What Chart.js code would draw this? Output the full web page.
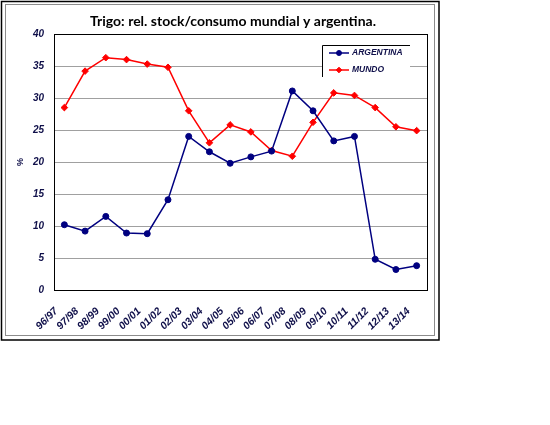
<!DOCTYPE html>
<html>
<head>
<meta charset="utf-8">
<script src="https://cdn.jsdelivr.net/npm/chart.js@4.4.1/dist/chart.umd.min.js"></script>
<style>
  html, body { margin: 0; padding: 0; background: #ffffff; }
  #wrap { width: 550px; height: 425px; }
</style>
</head>
<body>
<div id="wrap"><canvas id="c" width="550" height="425"></canvas></div>
<script>
const categories = ['96/97','97/98','98/99','99/00','00/01','01/02','02/03','03/04','04/05','05/06','06/07','07/08','08/09','09/10','10/11','11/12','12/13','13/14'];
const argentina = [10.2, 9.2, 11.5, 8.9, 8.8, 14.1, 24.0, 21.6, 19.8, 20.8, 21.7, 31.1, 28.0, 23.3, 24.0, 4.8, 3.2, 3.8];
const mundo = [28.5, 34.2, 36.3, 36.0, 35.3, 34.8, 28.0, 23.0, 25.8, 24.7, 21.8, 20.9, 26.2, 30.8, 30.4, 28.5, 25.5, 24.9];
const titleText = 'Trigo: rel. stock/consumo mundial y argentina.';
const yTitle = '%';

const NAVY = '#000080';
const RED = '#ff0000';
const TXT = '#10104a';

const framePlugin = {
  id: 'frame',
  beforeDraw(chart) {
    const ctx = chart.ctx;
    ctx.save();
    ctx.fillStyle = '#ffffff';
    ctx.fillRect(0, 0, chart.width, chart.height);
    ctx.strokeStyle = '#000000';
    ctx.lineWidth = 1.5;
    ctx.strokeRect(1.5, 1.5, 437.5, 338.5);
    ctx.strokeStyle = '#8c8c8c';
    ctx.lineWidth = 1;
    ctx.strokeRect(5.5, 4.5, 429, 331);
    ctx.restore();
  },
  afterDraw(chart) {
    const ctx = chart.ctx;
    const a = chart.chartArea;
    ctx.save();
    ctx.strokeStyle = '#000000';
    ctx.lineWidth = 1;
    ctx.strokeRect(Math.round(a.left) + 0.5, Math.round(a.top) + 0.5, Math.round(a.right - a.left), Math.round(a.bottom - a.top));
    // legend
    const lx = 322, ly = 45, lr = 410, lb = 77;
    ctx.fillStyle = '#ffffff';
    ctx.fillRect(lx, ly, lr - lx, lb - ly);
    ctx.strokeStyle = '#000000';
    ctx.lineWidth = 1;
    ctx.beginPath();
    ctx.moveTo(lx + 0.5, lb); ctx.lineTo(lx + 0.5, ly + 0.5); ctx.lineTo(lr, ly + 0.5);
    ctx.stroke();
    const ds = chart.data.datasets;
    const rows = [53, 70];
    ds.forEach((d, i) => {
      const y = rows[i];
      ctx.strokeStyle = d.borderColor;
      ctx.lineWidth = 1.5;
      ctx.beginPath(); ctx.moveTo(329, y); ctx.lineTo(349, y); ctx.stroke();
      ctx.fillStyle = d.pointBackgroundColor;
      ctx.lineWidth = 1;
      if (Chart.helpers && Chart.helpers.drawPoint) {
        Chart.helpers.drawPoint(ctx, { pointStyle: d.pointStyle, radius: d.pointRadius - 0.5, borderWidth: 1, rotation: 0 }, 339, y);
      }
      ctx.fillStyle = TXT;
      ctx.font = 'italic bold 8.5px "Liberation Sans", Arial, sans-serif';
      ctx.textBaseline = 'middle';
      ctx.textAlign = 'left';
      ctx.fillText(d.label, 352, y);
    });
    ctx.restore();
  }
};

new Chart(document.getElementById('c'), {
  type: 'line',
  data: {
    labels: categories,
    datasets: [
      { label: 'ARGENTINA', data: argentina, borderColor: NAVY, backgroundColor: NAVY,
        pointBackgroundColor: NAVY, pointBorderColor: NAVY, pointStyle: 'circle', pointRadius: 3,
        pointBorderWidth: 1, borderWidth: 1.5, tension: 0, fill: false },
      { label: 'MUNDO', data: mundo, borderColor: RED, backgroundColor: RED,
        pointBackgroundColor: RED, pointBorderColor: RED, pointStyle: 'rectRot', pointRadius: 3.3,
        pointBorderWidth: 1, borderWidth: 1.5, tension: 0, fill: false }
    ]
  },
  options: {
    responsive: false,
    animation: false,
    layout: { padding: { left: 0, right: 84, top: 0, bottom: 0 } },
    plugins: {
      legend: { display: false },
      tooltip: { enabled: false },
      title: {
        display: true, text: titleText, color: '#000000', fullSize: true,
        font: { family: 'Lato, "Open Sans", sans-serif', weight: 'bold', size: 14, lineHeight: 1.2 },
        padding: { top: 13, bottom: 4.2 }
      }
    },
    scales: {
      x: {
        type: 'category', offset: true,
        grid: { display: false, drawTicks: false },
        border: { display: true, color: '#000000', width: 1 },
        ticks: {
          autoSkip: false, minRotation: 45, maxRotation: 45, padding: 15, labelOffset: -8,
          color: TXT, font: { family: '"Liberation Sans", Arial, sans-serif', style: 'italic', weight: 'bold', size: 10.5 }
        },
        afterFit(s) { s.height = 135; }
      },
      y: {
        min: 0, max: 40,
        grid: { color: '#a0a0a0', lineWidth: 1, drawTicks: false },
        border: { display: true, color: '#000000', width: 1 },
        ticks: {
          stepSize: 5, padding: 10, color: TXT,
          font: { family: '"Liberation Sans", Arial, sans-serif', style: 'italic', weight: 'bold', size: 10 }
        },
        title: {
          display: true, text: yTitle, color: TXT,
          font: { family: '"Liberation Sans", Arial, sans-serif', weight: 'bold', size: 9, lineHeight: 1.2 },
          padding: { top: 15, bottom: 0 }
        },
        afterFit(s) { s.width = 54; }
      },
      yR: {
        position: 'right', display: true, min: 0, max: 40,
        grid: { display: false, drawOnChartArea: false, drawTicks: false },
        border: { display: false },
        ticks: { display: false },
        afterFit(s) { s.width = 39; }
      }
    }
  },
  plugins: [framePlugin]
});
</script>
</body>
</html>
